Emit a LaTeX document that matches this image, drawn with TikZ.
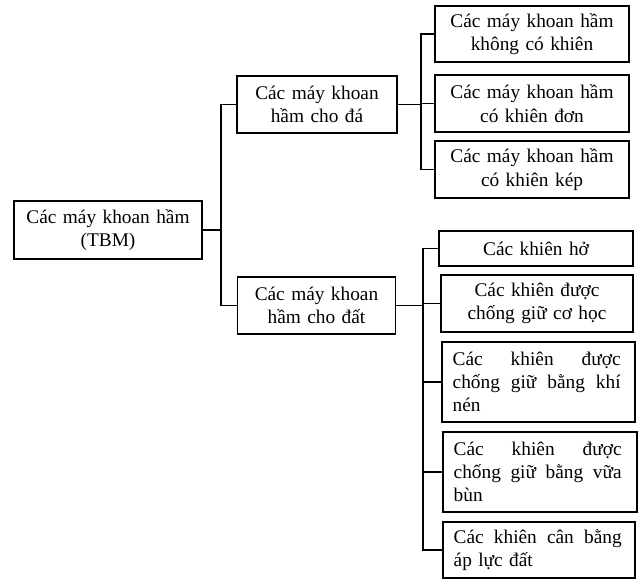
\documentclass[tikz,border=0pt]{standalone}
\usepackage{fontspec}
\setmainfont{Liberation Serif}
\usepackage{tikz}
\usetikzlibrary{positioning, calc}

\tikzset{
    box/.style={draw, line width=0.9pt, align=center, inner xsep=8pt, inner ysep=2pt,
        font=\fontsize{14.5}{17.5}\selectfont},
    jbox/.style={box, align=left},
    link/.style={line width=0.9pt}
}
\newcommand{\jline}[2]{\makebox[#1][s]{\spaceskip=0pt\xspaceskip=0pt\relax #2}}

\begin{document}
\begin{tikzpicture}[x=0.75pt, y=-0.75pt]
    \useasboundingbox (0,0) rectangle (640,579);

    % Boxes
    \node[box, text width=125pt, minimum height=43.5pt] (root) at (108,230) {Các máy khoan hầm\\(TBM)};
    \node[box, text width=104pt, minimum height=42.75pt] (da) at (317,104.5) {Các máy khoan\\hầm cho đá};
    \node[box, text width=103pt, minimum height=42.75pt] (dat) at (316.5,305.5) {Các máy khoan\\hầm cho đất};

    \node[box, text width=129.5pt, minimum height=42pt] (r1) at (532,34) {Các máy khoan hầm\\không có khiên};
    \node[box, text width=129.5pt, minimum height=42.75pt] (r2) at (532,103.5) {Các máy khoan hầm\\có khiên đơn};
    \node[box, text width=129.5pt, minimum height=42.75pt] (r3) at (532,169.5) {Các máy khoan hầm\\có khiên kép};

    \node[box, text width=129.5pt, minimum height=26.25pt] (s1) at (536,248.5) {Các khiên hở};
    \node[box, text width=128pt, minimum height=42.75pt] (s2) at (537,303.5) {Các khiên được\\chống giữ cơ học};
    \node[jbox, text width=128.75pt, minimum height=60pt] (s3) at (538.5,382)
        {\jline{126pt}{Các khiên được}\\\jline{126pt}{chống giữ bằng khí}\\nén};
    \node[jbox, text width=129.5pt, minimum height=60pt] (s4) at (540,472)
        {\jline{126pt}{Các khiên được}\\\jline{126pt}{chống giữ bằng vữa}\\bùn};
    \node[jbox, text width=128pt, minimum height=42pt] (s5) at (539,550)
        {\jline{126pt}{Các khiên cân bằng}\\áp lực đất};

    % Buses
    \coordinate (busL) at (221,0);
    \coordinate (busU) at (421,0);
    \coordinate (busD) at (423,0);

    % Connectors
    \draw[link] (root.east) -- (root.east -| busL);
    \draw[link] (da.west) -- (da.west -| busL) -- (dat.west -| busL) -- (dat.west);

    \draw[link] (da.east) -- (da.east -| busU);
    \draw[link] (r1.west) -- (r1.west -| busU) -- (r3.west -| busU) -- (r3.west);
    \draw[link] (r2.west) -- (r2.west -| busU);

    \draw[link] (dat.east) -- (dat.east -| busD);
    \draw[link] (s1.west) -- (s1.west -| busD) -- (s5.west -| busD) -- (s5.west);
    \foreach \n in {s2, s3, s4}
        \draw[link] (\n.west) -- (\n.west -| busD);
\end{tikzpicture}
\end{document}
